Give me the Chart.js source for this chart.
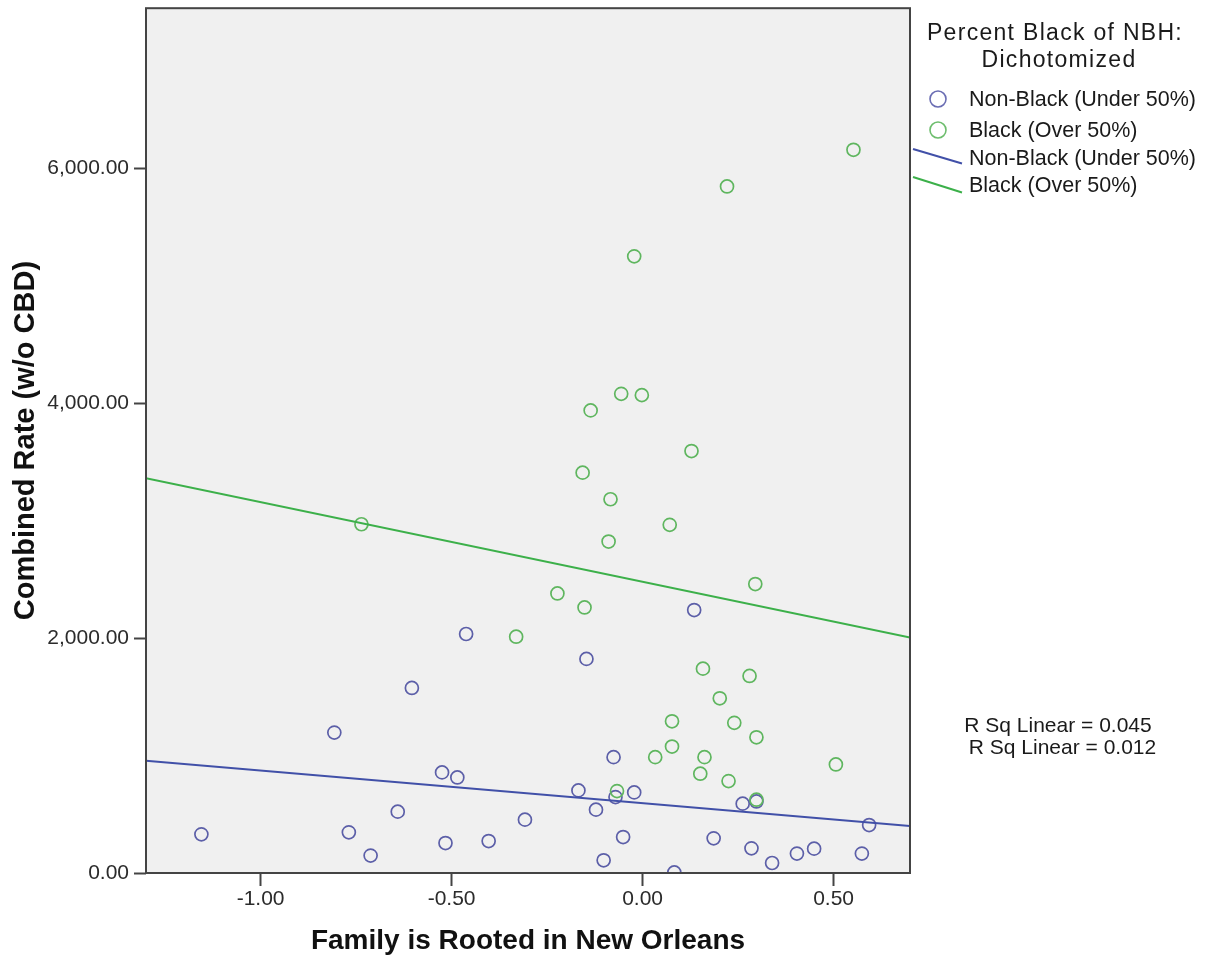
<!DOCTYPE html>
<html>
<head>
<meta charset="utf-8">
<script src="https://cdn.jsdelivr.net/npm/chart.js@4.4.1/dist/chart.umd.min.js"></script>
<style>
  html, body { margin: 0; padding: 0; background: #ffffff; }
  #wrap { width: 1209px; height: 959px; }
</style>
</head>
<body>
<div id="wrap"><canvas id="c" width="1209" height="959"></canvas></div>
<script>
// ---- data ----
const blueX = [-1.155, -0.807, -0.769, -0.712, -0.641, -0.604, -0.525, -0.516, -0.485, -0.462,
               -0.403, -0.308, -0.168, -0.147, -0.122, -0.102, -0.076, -0.071, -0.051, -0.022,
                0.083,  0.135,  0.186,  0.262,  0.285,  0.298,  0.339,  0.404,  0.449,  0.574, 0.593];
const blueY = [329, 1195, 346, 148, 522, 1575, 856, 255, 813, 2034,
               272, 454, 703, 1822, 539, 108, 986, 646, 306, 686,
               5, 2238, 295, 590, 210, 609, 85, 165, 207, 165, 408];

const greenX = [0.552, 0.221, -0.022, -0.056, -0.002, -0.136, 0.128, -0.157, -0.084, -0.736,
                0.071, -0.089, 0.295, -0.223, -0.152, -0.331, 0.158, 0.280, 0.202, 0.077,
                0.240, 0.298, 0.077, 0.033, 0.162, 0.506, 0.151, 0.225, -0.067, 0.298];
const greenY = [6155, 5843, 5248, 4078, 4067, 3937, 3591, 3407, 3181, 2968,
                2963, 2821, 2459, 2379, 2260, 2011, 1739, 1677, 1487, 1291,
                1278, 1155, 1076, 986, 986, 924, 845, 782, 697, 624];

// fitted lines (end points at the axis limits)
const fitX = [-1.30, 0.70];
const blueFitY = [955, 400];
const greenFitY = [3360, 2005];

const xTicks = [-1.0, -0.5, 0.0, 0.5];
const yTicks = [0, 2000, 4000, 6000];
const xRange = [-1.30, 0.70];
const yRange = [0, 7360];

const seriesLabels = ['Non-Black (Under 50%)', 'Black (Over 50%)'];
const legendTitle = ['Percent Black of NBH:', 'Dichotomized'];
const rsqLabels = ['R Sq Linear = 0.045', 'R Sq Linear = 0.012'];
const xTitle = 'Family is Rooted in New Orleans';
const yTitle = 'Combined Rate (w/o CBD)';

// ---- styles ----
const FONT = '"Liberation Sans", Arial, Helvetica, sans-serif';
const bluePt = '#5c5fa8';
const greenPt = '#5fb65f';
const blueLine = '#4150a8';
const greenLine = '#3cb04a';

const zip = (xs, ys) => xs.map((x, i) => ({ x: x, y: ys[i] }));

const framePlugin = {
  id: 'frame',
  beforeDraw(chart) {
    const { ctx, chartArea: a } = chart;
    ctx.save();
    ctx.fillStyle = '#ffffff';
    ctx.fillRect(0, 0, chart.width, chart.height);
    ctx.fillStyle = '#f0f0f0';
    ctx.fillRect(a.left, a.top, a.right - a.left, a.bottom - a.top);
    ctx.restore();
  },
  afterDatasetsDraw(chart) {
    const { ctx, chartArea: a } = chart;
    ctx.save();
    ctx.strokeStyle = '#444444';
    ctx.lineWidth = 2;
    ctx.strokeRect(a.left, a.top, a.right - a.left, a.bottom - a.top);
    ctx.restore();
  },
  afterDraw(chart) {
    const ctx = chart.ctx;
    ctx.save();
    ctx.fillStyle = '#1a1a1a';
    // legend title
    ctx.textAlign = 'center';
    ctx.textBaseline = 'alphabetic';
    ctx.font = '23px ' + FONT;
    try { ctx.letterSpacing = '1.3px'; } catch (e) {}
    ctx.fillText(legendTitle[0], 1055, 40);
    ctx.fillText(legendTitle[1], 1059, 67);
    try { ctx.letterSpacing = '0px'; } catch (e) {}
    // legend markers
    ctx.lineWidth = 1.6;
    ctx.strokeStyle = '#6a6db3';
    ctx.beginPath(); ctx.arc(938, 99, 8, 0, Math.PI * 2); ctx.stroke();
    ctx.strokeStyle = '#6dbd6d';
    ctx.beginPath(); ctx.arc(938, 130, 8, 0, Math.PI * 2); ctx.stroke();
    ctx.lineWidth = 2;
    ctx.strokeStyle = blueLine;
    ctx.beginPath(); ctx.moveTo(913, 149); ctx.lineTo(962, 163.5); ctx.stroke();
    ctx.strokeStyle = greenLine;
    ctx.beginPath(); ctx.moveTo(913, 177); ctx.lineTo(962, 192.5); ctx.stroke();
    // legend texts
    ctx.textAlign = 'left';
    ctx.font = '21.5px ' + FONT;
    ctx.fillText(seriesLabels[0], 969, 106);
    ctx.fillText(seriesLabels[1], 969, 137);
    ctx.fillText(seriesLabels[0], 969, 165);
    ctx.fillText(seriesLabels[1], 969, 192);
    // R squared
    ctx.textAlign = 'center';
    ctx.font = '21px ' + FONT;
    ctx.fillText(rsqLabels[0], 1058, 732);
    ctx.fillText(rsqLabels[1], 1062.5, 754);
    ctx.restore();
  }
};

new Chart(document.getElementById('c'), {
  type: 'scatter',
  data: {
    datasets: [
      { label: seriesLabels[0], data: zip(blueX, blueY), pointStyle: 'circle', pointRadius: 6.5,
        pointBorderWidth: 1.7, borderColor: bluePt, backgroundColor: 'rgba(0,0,0,0)', pointHoverRadius: 6.5, order: 3 },
      { label: seriesLabels[1], data: zip(greenX, greenY), pointStyle: 'circle', pointRadius: 6.5,
        pointBorderWidth: 1.7, borderColor: greenPt, backgroundColor: 'rgba(0,0,0,0)', pointHoverRadius: 6.5, order: 2 },
      { type: 'line', label: seriesLabels[0] + ' fit', data: zip(fitX, blueFitY), showLine: true,
        borderColor: blueLine, borderWidth: 2, pointRadius: 0, fill: false, order: 1 },
      { type: 'line', label: seriesLabels[1] + ' fit', data: zip(fitX, greenFitY), showLine: true,
        borderColor: greenLine, borderWidth: 2, pointRadius: 0, fill: false, order: 0 }
    ]
  },
  options: {
    responsive: false,
    animation: false,
    events: [],
    layout: { padding: { left: 0, right: 299, top: 8, bottom: 0 } },
    plugins: { legend: { display: false }, tooltip: { enabled: false } },
    scales: {
      x: {
        type: 'linear',
        min: xRange[0], max: xRange[1],
        afterBuildTicks(s) { s.ticks = xTicks.map(v => ({ value: v })); },
        afterFit(s) { s.height = 86; s.paddingLeft = 0; s.paddingRight = 0; },
        grid: { drawOnChartArea: false, drawTicks: true, tickLength: 13, tickWidth: 2, tickColor: '#444444' },
        border: { display: false },
        ticks: { color: '#2b2b2b', padding: 1, font: { family: FONT, size: 21 },
                 callback: v => Number(v).toFixed(2) },
        title: { display: true, text: xTitle, color: '#111111', padding: { top: 0, bottom: 1 },
                 font: { family: FONT, size: 28, weight: 'bold' } }
      },
      y: {
        type: 'linear',
        min: yRange[0], max: yRange[1],
        afterBuildTicks(s) { s.ticks = yTicks.map(v => ({ value: v })); },
        afterFit(s) { s.width = 146; s.paddingTop = 0; s.paddingBottom = 0; },
        grid: { drawOnChartArea: false, drawTicks: true, tickLength: 12, tickWidth: 2, tickColor: '#444444' },
        border: { display: false },
        ticks: { color: '#2b2b2b', padding: 5, font: { family: FONT, size: 21 },
                 callback: v => Number(v).toLocaleString('en-US', { minimumFractionDigits: 2, maximumFractionDigits: 2 }) },
        title: { display: true, text: yTitle, color: '#111111', padding: { top: 9, bottom: 0 },
                 font: { family: FONT, size: 29, weight: 'bold' } }
      }
    }
  },
  plugins: [framePlugin]
});
</script>
</body>
</html>
